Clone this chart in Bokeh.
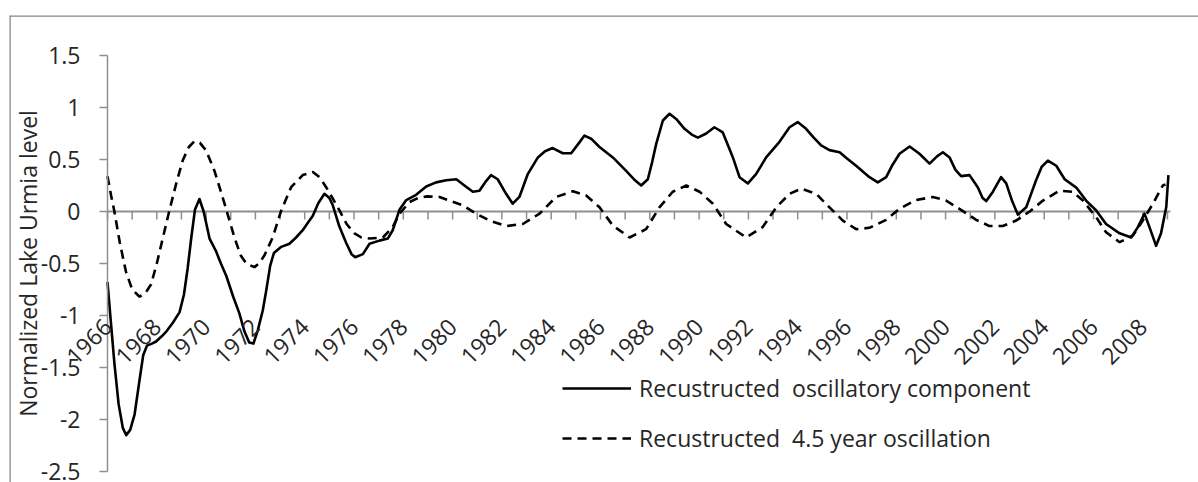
from bokeh.plotting import figure
from bokeh.models import Range1d, LinearAxis, FixedTicker, Span, Legend, LegendItem, NumeralTickFormatter, ColumnDataSource, LabelSet
from bokeh.core.properties import value
from bokeh.embed import file_html
from bokeh.resources import INLINE

# ---------------- data ----------------
osc_years = [
    1966.00, 1966.15, 1966.28, 1966.45, 1966.62, 1966.76, 1966.92, 1967.10, 1967.30, 1967.45,
    1967.60, 1967.80, 1967.97, 1968.20, 1968.40, 1968.65, 1968.92, 1969.10, 1969.25, 1969.40,
    1969.55, 1969.73, 1969.90, 1970.14, 1970.40, 1970.60, 1970.82, 1971.10, 1971.35, 1971.55,
    1971.75, 1971.92, 1972.10, 1972.30, 1972.44, 1972.60, 1972.75, 1973.05, 1973.38, 1973.65,
    1973.92, 1974.15, 1974.33, 1974.55, 1974.80, 1975.00, 1975.14, 1975.40, 1975.68, 1975.90,
    1976.05, 1976.36, 1976.63, 1977.03, 1977.37, 1977.57, 1977.85, 1978.12, 1978.52, 1978.93,
    1979.33, 1979.74, 1980.15, 1980.48, 1980.82, 1981.09, 1981.35, 1981.56, 1981.83, 1982.17,
    1982.44, 1982.71, 1983.05, 1983.46, 1983.75, 1984.06, 1984.47, 1984.81, 1985.10, 1985.35,
    1985.62, 1985.96, 1986.50, 1987.04, 1987.40, 1987.65, 1987.92, 1988.10, 1988.26, 1988.53,
    1988.80, 1989.07, 1989.41, 1989.70, 1989.95, 1990.29, 1990.62, 1990.96, 1991.20, 1991.37,
    1991.64, 1991.98, 1992.31, 1992.72, 1993.26, 1993.67, 1994.00, 1994.34, 1994.65, 1994.95,
    1995.29, 1995.70, 1996.00, 1996.37, 1996.91, 1997.25, 1997.59, 1997.85, 1998.13, 1998.54,
    1998.94, 1999.35, 1999.65, 1999.89, 2000.16, 2000.40, 2000.63, 2000.97, 2001.31, 2001.50,
    2001.65, 2001.92, 2002.25, 2002.46, 2002.70, 2002.93, 2003.27, 2003.67, 2003.90, 2004.15,
    2004.49, 2004.83, 2005.30, 2005.70, 2006.11, 2006.51, 2007.06, 2007.53, 2007.80, 2008.07,
    2008.27, 2008.54, 2008.74, 2008.95, 2009.04,
]
osc_values = [
    -0.68, -1.10, -1.46, -1.85, -2.08, -2.15, -2.10, -1.95, -1.62, -1.38,
    -1.29, -1.27, -1.25, -1.20, -1.15, -1.07, -0.97, -0.80, -0.55, -0.25,
    0.02, 0.12, 0.00, -0.26, -0.38, -0.50, -0.62, -0.82, -0.98, -1.15,
    -1.26, -1.27, -1.14, -0.95, -0.76, -0.52, -0.40, -0.34, -0.31, -0.25,
    -0.18, -0.10, -0.04, 0.08, 0.17, 0.13, 0.06, -0.14, -0.30, -0.41,
    -0.44, -0.41, -0.31, -0.28, -0.26, -0.18, 0.02, 0.11, 0.16, 0.24,
    0.28, 0.30, 0.31, 0.25, 0.19, 0.20, 0.29, 0.35, 0.31, 0.17,
    0.075, 0.14, 0.36, 0.52, 0.58, 0.61, 0.56, 0.56, 0.65, 0.73,
    0.70, 0.62, 0.52, 0.39, 0.30, 0.25, 0.31, 0.48, 0.65, 0.875,
    0.94, 0.89, 0.795, 0.74, 0.71, 0.75, 0.81, 0.76, 0.62, 0.52,
    0.33, 0.27, 0.36, 0.52, 0.67, 0.81, 0.86, 0.795, 0.71, 0.635,
    0.59, 0.57, 0.51, 0.44, 0.33, 0.28, 0.33, 0.45, 0.555, 0.625,
    0.555, 0.46, 0.53, 0.57, 0.52, 0.40, 0.34, 0.35, 0.23, 0.13,
    0.10, 0.19, 0.33, 0.27, 0.10, -0.03, 0.04, 0.30, 0.43, 0.49,
    0.44, 0.31, 0.23, 0.105, 0.01, -0.12, -0.21, -0.25, -0.15, -0.02,
    -0.15, -0.33, -0.21, 0.04, 0.35,
]

cyc_years = [
    1966.00, 1966.15, 1966.28, 1966.50, 1966.75, 1967.00, 1967.30, 1967.55, 1967.77, 1968.00,
    1968.25, 1968.50, 1968.80, 1969.05, 1969.30, 1969.53, 1969.75, 1970.00, 1970.34, 1970.75,
    1971.15, 1971.40, 1971.63, 1971.96, 1972.15, 1972.37, 1972.70, 1973.05, 1973.45, 1973.92,
    1974.33, 1974.60, 1974.87, 1975.15, 1975.41, 1975.70, 1976.02, 1976.30, 1976.63, 1977.17,
    1977.57, 1977.85, 1978.25, 1978.60, 1978.93, 1979.47, 1979.87, 1980.41, 1980.95, 1981.50,
    1982.17, 1982.85, 1983.53, 1984.20, 1984.88, 1985.42, 1985.96, 1986.50, 1987.18, 1987.85,
    1988.39, 1988.93, 1989.48, 1990.02, 1990.56, 1991.10, 1991.91, 1992.58, 1993.13, 1993.67,
    1994.14, 1994.75, 1995.29, 1995.83, 1996.37, 1996.91, 1997.59, 1998.13, 1998.80, 1999.48,
    2000.02, 2000.56, 2001.24, 2001.78, 2002.32, 2002.86, 2003.41, 2003.95, 2004.62, 2005.16,
    2005.57, 2006.11, 2006.51, 2007.06, 2007.60, 2008.00, 2008.41, 2008.81, 2008.92,
]
cyc_values = [
    0.34, 0.15, 0.00, -0.30, -0.58, -0.75, -0.82, -0.78, -0.70, -0.50,
    -0.25, 0.00, 0.28, 0.49, 0.62, 0.676, 0.66, 0.587, 0.39, 0.074,
    -0.25, -0.42, -0.50, -0.535, -0.50, -0.42, -0.25, 0.01, 0.234, 0.35,
    0.38, 0.33, 0.234, 0.12, 0.01, -0.12, -0.21, -0.25, -0.26, -0.25,
    -0.15, -0.02, 0.09, 0.13, 0.145, 0.14, 0.105, 0.06, -0.02, -0.087,
    -0.14, -0.12, -0.02, 0.14, 0.195, 0.154, 0.04, -0.135, -0.25, -0.17,
    0.04, 0.19, 0.25, 0.19, 0.074, -0.12, -0.25, -0.15, 0.04, 0.17,
    0.22, 0.17, 0.04, -0.087, -0.17, -0.157, -0.08, 0.026, 0.11, 0.14,
    0.105, 0.026, -0.08, -0.14, -0.14, -0.087, 0.00, 0.105, 0.20, 0.19,
    0.105, -0.055, -0.20, -0.295, -0.23, -0.087, 0.074, 0.25, 0.26,
]

tick_years = list(range(1966, 2010))
label_years = list(range(1966, 2009, 2))
label_texts = [str(y) for y in label_years]
y_ticks = [-2.5, -2, -1.5, -1, -0.5, 0, 0.5, 1, 1.5]

series_names = ["Recustructed  oscillatory component", "Recustructed  4.5 year oscillation"]
y_title = "Normalized Lake Urmia level"

# ---------------- layout / styling ----------------
FONT = "Open Sans"
FS = "23px"
TXT = "#262626"
AX = "#8f8f8f"
BORDER = "#858585"

PX_PER_YEAR = 24.65
PX_PER_UNIT = 104.0
W, H = 1198, 482
ML, MT = 9, 15                     # canvas pixels left of / above the frame
AXIS_X_PX = 107                    # canvas x of the value axis (year 1966)
ZERO_Y_PX = 211                    # canvas y of the zero line
X_AXIS_END = 2009.12               # where the category axis line stops
LABEL_Y = -1.07                    # vertical position of the rotated year labels

x0 = tick_years[0] - (AXIS_X_PX - ML) / PX_PER_YEAR
x1 = tick_years[0] + (W - AXIS_X_PX) / PX_PER_YEAR
y1 = (ZERO_Y_PX - MT) / PX_PER_UNIT
y0 = -(H - ZERO_Y_PX) / PX_PER_UNIT

p = figure(width=W, height=H, x_range=Range1d(x0, x1), y_range=Range1d(y0, y1),
           x_axis_type=None, y_axis_type=None, output_backend="svg", toolbar_location=None,
           min_border_left=ML, min_border_right=0, min_border_top=MT, min_border_bottom=0)
p.outline_line_color = None
p.grid.visible = False
p.background_fill_color = "white"
p.border_fill_color = "white"

# outer chart border (top and left edges visible in the reference)
p.add_layout(Span(location=y1, dimension="width", line_color=BORDER, line_width=2.5))
p.add_layout(Span(location=x0, dimension="height", line_color=BORDER, line_width=2.5))

# value axis, placed at the first year
ya = LinearAxis(fixed_location=tick_years[0], bounds=(y_ticks[0], y_ticks[-1]),
                ticker=FixedTicker(ticks=y_ticks), formatter=NumeralTickFormatter(format="0.[0]"))
ya.minor_tick_line_color = None
ya.major_tick_in = 0
ya.major_tick_out = 8
ya.major_tick_line_color = AX
ya.major_tick_line_width = 1.5
ya.axis_line_color = AX
ya.axis_line_width = 1.5
ya.major_label_standoff = 19
ya.major_label_text_font = FONT
ya.major_label_text_font_size = FS
ya.major_label_text_color = TXT
ya.axis_label = y_title
ya.axis_label_text_font = FONT
ya.axis_label_text_font_size = "23px"
ya.axis_label_text_font_style = "normal"
ya.axis_label_text_color = TXT
ya.axis_label_standoff = -6
p.add_layout(ya, "left")

# category axis through zero: line + one tick per year
p.segment(x0=[tick_years[0]], x1=[X_AXIS_END], y0=[0], y1=[0], line_color=AX, line_width=2)
tick_len = 8 / PX_PER_UNIT
p.segment(x0=tick_years, x1=tick_years, y0=[0] * len(tick_years), y1=[-tick_len] * len(tick_years),
          line_color=AX, line_width=1.5)

# rotated year labels
src_lab = ColumnDataSource(dict(x=label_years, y=[LABEL_Y] * len(label_years), t=label_texts))
p.add_layout(LabelSet(x="x", y="y", text="t", source=src_lab, angle=45, angle_units="deg",
                      text_align="right", text_baseline="middle", text_font=value(FONT),
                      text_font_size=value(FS), text_color=TXT))

r1 = p.line(osc_years, osc_values, line_color="black", line_width=2.6, line_join="round")
r2 = p.line(cyc_years, cyc_values, line_color="black", line_width=2.6, line_dash="9 6")

legend = Legend(items=[LegendItem(label=series_names[0], renderers=[r1]),
                       LegendItem(label=series_names[1], renderers=[r2])],
                location=(553, 28), orientation="vertical")
legend.border_line_color = None
legend.background_fill_alpha = 0
legend.margin = 0
legend.padding = 0
legend.glyph_width = 69
legend.glyph_height = 24
legend.label_height = 24
legend.spacing = 18
legend.label_standoff = 8
legend.label_text_font = FONT
legend.label_text_font_size = "23px"
legend.label_text_color = TXT
p.add_layout(legend, "center")

open("out.html", "w").write(file_html(p, INLINE))
